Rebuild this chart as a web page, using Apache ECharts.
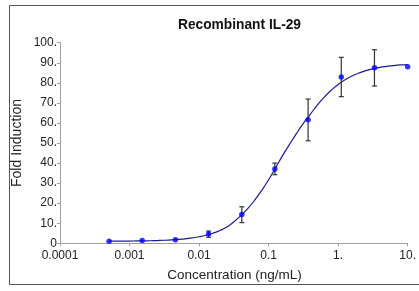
<!DOCTYPE html>
<html>
<head>
<meta charset="utf-8">
<script src="https://cdn.jsdelivr.net/npm/echarts@6/dist/echarts.min.js"></script>
<style>
html,body{margin:0;padding:0;background:#fff;}
#chart{width:419px;height:291px;}
</style>
</head>
<body>
<div id="chart"></div>
<script>
// Measured points (concentration ng/mL, mean fold induction, error range)
var conc    = [0.000508, 0.00152, 0.00457, 0.0137, 0.0412, 0.123, 0.370, 1.11, 3.33, 10];
var mean    = [1.0, 1.4, 1.8, 4.6, 14.3, 37.0, 61.6, 82.9, 87.5, 88.0];
var errLow  = [null, null, null, 3.0, 10.3, 34.2, 51.1, 73.1, 78.4, null];
var errHigh = [null, null, null, 6.1, 18.2, 40.0, 71.9, 92.7, 96.5, null];

// Fitted curve
var curveX = [0.000508, 0.00063, 0.00079, 0.001, 0.00126, 0.00158, 0.002, 0.00251, 0.00316, 0.00398,
              0.00501, 0.00631, 0.00794, 0.01, 0.0126, 0.0158, 0.02, 0.0251, 0.0316, 0.0398,
              0.0501, 0.0631, 0.0794, 0.1, 0.126, 0.158, 0.2, 0.251, 0.316, 0.398,
              0.501, 0.631, 0.794, 1, 1.26, 1.58, 2, 2.51, 3.16, 3.98,
              5.01, 6.31, 7.94, 10];
var curveY = [1.05, 1.07, 1.09, 1.12, 1.16, 1.21, 1.28, 1.38, 1.51, 1.69,
              1.93, 2.25, 2.68, 3.25, 4.02, 5.03, 6.35, 8.1, 10.7, 13.8,
              17.3, 21.5, 26.3, 31.7, 37.6, 43.6, 49.3, 54.7, 59.8, 64.3,
              68.9, 72.9, 76.3, 79.2, 81.5, 83.4, 84.9, 86.1, 87.0, 87.7,
              88.2, 88.6, 88.9, 89.1];

// Tick labels
var xTickValues = [0.0001, 0.001, 0.01, 0.1, 1, 10];
var xTickLabels = ['0.0001', '0.001', '0.01', '0.1', '1.', '10.'];
var yTickLabels = ['0', '10.', '20.', '30.', '40.', '50.', '60.', '70.', '80.', '90.', '100.'];

var titleText = 'Recombinant IL-29';
var xTitle = 'Concentration (ng/mL)';
var yTitle = 'Fold Induction';

var pointData = conc.map(function (c, i) { return [c, mean[i]]; });
var curveData = curveX.map(function (c, i) { return [c, curveY[i]]; });
var errData = [];
conc.forEach(function (c, i) {
  if (errLow[i] != null) errData.push([c, errLow[i], errHigh[i]]);
});

function xLabel(v) {
  for (var i = 0; i < xTickValues.length; i++) {
    if (Math.abs(Math.log10(v) - Math.log10(xTickValues[i])) < 1e-6) return xTickLabels[i];
  }
  return '';
}

var font = '"Liberation Sans", Arial, sans-serif';
var chart = echarts.init(document.getElementById('chart'), null, {renderer: 'canvas'});
chart.setOption({
  animation: false,
  backgroundColor: '#fff',
  title: {
    text: titleText,
    left: 234.5, top: 13, textAlign: 'center',
    textStyle: {fontFamily: font, fontSize: 13.75, fontWeight: 'bold', color: '#111'}
  },
  graphic: [{
    type: 'rect', silent: true,
    shape: {x: 9.5, y: 5.5, width: 420, height: 279},
    style: {fill: null, stroke: '#555', lineWidth: 1}
  }, {
    type: 'text', silent: true,
    x: 17.5, y: 143, rotation: Math.PI / 2,
    style: {text: yTitle, fontFamily: font, fontSize: 14, fill: '#222', align: 'center', verticalAlign: 'middle'}
  }, {
    type: 'text', silent: true,
    x: 234.5, y: 275.5,
    style: {text: xTitle, fontFamily: font, fontSize: 13.5, fill: '#222', align: 'center', verticalAlign: 'middle'}
  }],
  grid: {left: 60, right: 10.7, top: 42.7, bottom: 47.7},
  xAxis: {
    type: 'log', logBase: 10, min: 0.0001, max: 10,
    axisLine: {lineStyle: {color: '#a0a0a0', width: 1}},
    axisTick: {show: true, length: 3, lineStyle: {color: '#a0a0a0'}},
    minorTick: {show: false},
    splitLine: {show: false},
    axisLabel: {
      margin: 6, color: '#222', fontFamily: font, fontSize: 12,
      formatter: function (v) { return xLabel(v); }
    }
  },
  yAxis: {
    type: 'value', min: 0, max: 100, interval: 10,
    axisLine: {show: true, lineStyle: {color: '#a0a0a0', width: 1}},
    axisTick: {show: true, length: 3, lineStyle: {color: '#a0a0a0'}},
    splitLine: {show: false},
    axisLabel: {
      margin: 3, color: '#222', fontFamily: font, fontSize: 12,
      formatter: function (v) { return yTickLabels[Math.round(v / 10)]; }
    }
  },
  series: [{
    type: 'line', data: curveData, symbol: 'none', smooth: true,
    lineStyle: {color: '#1c1c8e', width: 1.2}, z: 2
  }, {
    type: 'custom', data: errData, z: 3,
    renderItem: function (params, api) {
      var x = api.value(0);
      var lo = api.coord([x, api.value(1)]);
      var hi = api.coord([x, api.value(2)]);
      var w = 2.5;
      var st = {stroke: '#333', lineWidth: 1.2};
      return {type: 'group', children: [
        {type: 'line', shape: {x1: lo[0], y1: lo[1], x2: hi[0], y2: hi[1]}, style: st},
        {type: 'line', shape: {x1: lo[0] - w, y1: lo[1], x2: lo[0] + w, y2: lo[1]}, style: st},
        {type: 'line', shape: {x1: hi[0] - w, y1: hi[1], x2: hi[0] + w, y2: hi[1]}, style: st}
      ]};
    }
  }, {
    type: 'scatter', data: pointData, symbol: 'circle', symbolSize: 5.5,
    itemStyle: {color: '#0000ff'}, z: 4
  }]
});
</script>
</body>
</html>
